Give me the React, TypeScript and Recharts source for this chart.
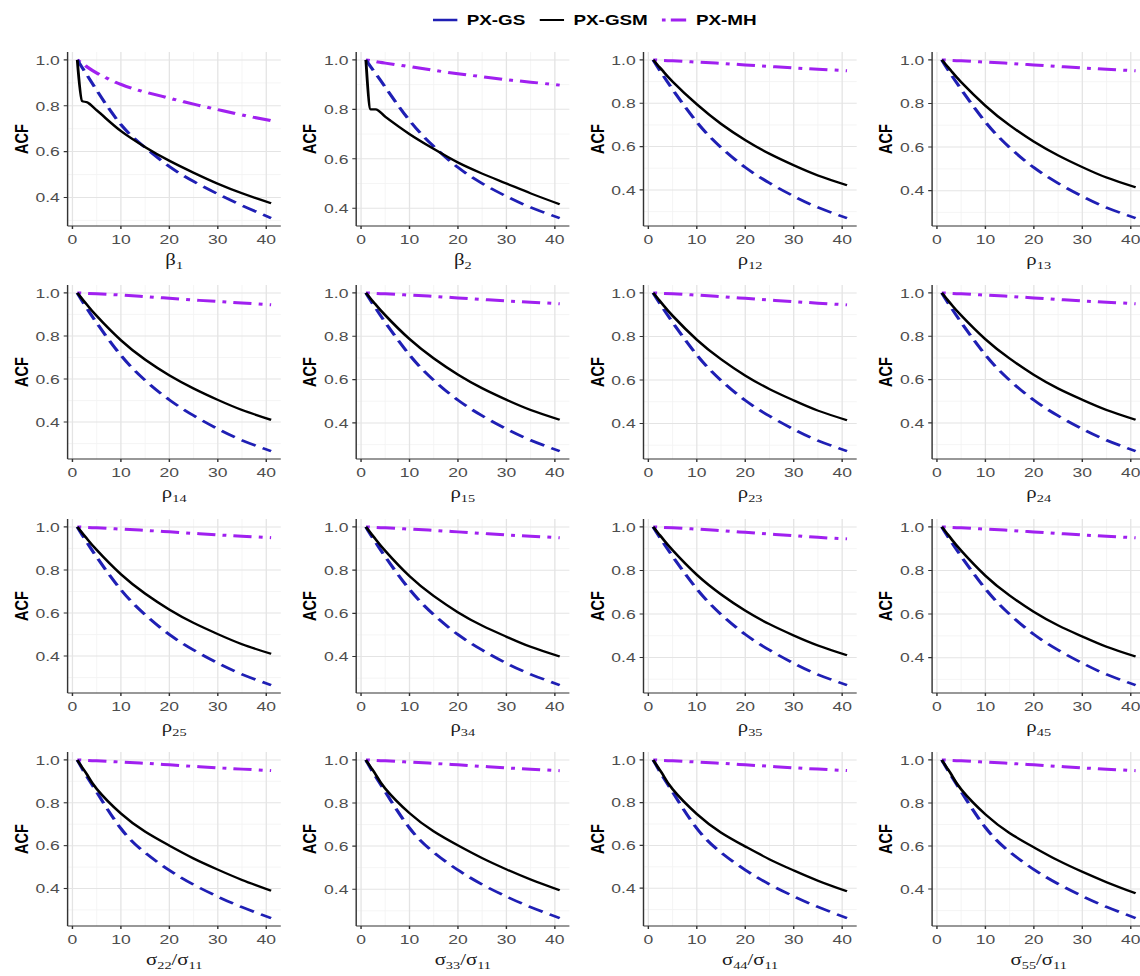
import React from "react"
import { LineChart, Line, XAxis, YAxis, CartesianGrid, Label } from "recharts"

const LAGS = [1, 2, 3, 5, 10, 15, 20, 25, 30, 35, 41]

const X_TICKS = [0, 10, 20, 30, 40]
const X_MINOR = [5, 15, 25, 35]
const Y_TICKS = [0.4, 0.6, 0.8, 1.0]
const Y_MINOR = [0.3, 0.5, 0.7, 0.9]

// panel titles: [symbol, subscript] pieces joined by "/"
const TITLES: [string, string][][] = [
  [["β", "1"]], [["β", "2"]], [["ρ", "12"]], [["ρ", "13"]],
  [["ρ", "14"]], [["ρ", "15"]], [["ρ", "23"]], [["ρ", "24"]],
  [["ρ", "25"]], [["ρ", "34"]], [["ρ", "35"]], [["ρ", "45"]],
  [["σ", "22"], ["σ", "11"]], [["σ", "33"], ["σ", "11"]],
  [["σ", "44"], ["σ", "11"]], [["σ", "55"], ["σ", "11"]],
]

const GS = [
  [1, 0.967, 0.934, 0.868, 0.718, 0.618, 0.535, 0.47, 0.415, 0.365, 0.31],
  [1, 0.972, 0.945, 0.89, 0.755, 0.65, 0.565, 0.5, 0.448, 0.403, 0.36],
  [1, 0.964, 0.93, 0.864, 0.713, 0.596, 0.504, 0.432, 0.371, 0.319, 0.27],
  [1, 0.964, 0.93, 0.865, 0.715, 0.598, 0.506, 0.434, 0.374, 0.322, 0.274],
  [1, 0.963, 0.928, 0.861, 0.71, 0.594, 0.503, 0.43, 0.368, 0.315, 0.265],
  [1, 0.964, 0.93, 0.864, 0.714, 0.597, 0.505, 0.433, 0.372, 0.32, 0.27],
  [1, 0.964, 0.93, 0.865, 0.715, 0.598, 0.506, 0.434, 0.373, 0.321, 0.273],
  [1, 0.964, 0.93, 0.864, 0.714, 0.597, 0.505, 0.433, 0.372, 0.32, 0.27],
  [1, 0.963, 0.928, 0.86, 0.708, 0.592, 0.5, 0.428, 0.367, 0.315, 0.265],
  [1, 0.963, 0.929, 0.862, 0.711, 0.594, 0.502, 0.43, 0.369, 0.318, 0.268],
  [1, 0.964, 0.93, 0.865, 0.715, 0.598, 0.506, 0.434, 0.373, 0.321, 0.273],
  [1, 0.964, 0.93, 0.865, 0.716, 0.599, 0.507, 0.435, 0.375, 0.323, 0.274],
  [1, 0.96, 0.922, 0.85, 0.68, 0.567, 0.485, 0.418, 0.362, 0.313, 0.262],
  [1, 0.96, 0.923, 0.852, 0.684, 0.571, 0.489, 0.422, 0.366, 0.317, 0.266],
  [1, 0.96, 0.922, 0.85, 0.68, 0.567, 0.485, 0.418, 0.362, 0.312, 0.26],
  [1, 0.961, 0.924, 0.853, 0.686, 0.573, 0.491, 0.424, 0.367, 0.317, 0.265],
]

const GSM = [
  [1, 0.82, 0.815, 0.78, 0.69, 0.62, 0.56, 0.508, 0.46, 0.418, 0.375],
  [1, 0.8, 0.8, 0.77, 0.7, 0.64, 0.585, 0.54, 0.5, 0.46, 0.416],
  [1, 0.974, 0.949, 0.9, 0.795, 0.705, 0.63, 0.567, 0.514, 0.467, 0.422],
  [1, 0.974, 0.948, 0.898, 0.79, 0.7, 0.625, 0.562, 0.508, 0.46, 0.415],
  [1, 0.972, 0.945, 0.893, 0.78, 0.69, 0.617, 0.556, 0.503, 0.456, 0.41],
  [1, 0.973, 0.947, 0.897, 0.787, 0.698, 0.623, 0.56, 0.507, 0.46, 0.415],
  [1, 0.973, 0.946, 0.895, 0.785, 0.695, 0.62, 0.558, 0.506, 0.459, 0.415],
  [1, 0.973, 0.946, 0.896, 0.786, 0.697, 0.622, 0.559, 0.507, 0.46, 0.415],
  [1, 0.972, 0.945, 0.893, 0.78, 0.69, 0.616, 0.554, 0.502, 0.455, 0.41],
  [1, 0.971, 0.943, 0.889, 0.772, 0.68, 0.605, 0.543, 0.492, 0.445, 0.4],
  [1, 0.972, 0.945, 0.893, 0.78, 0.69, 0.615, 0.553, 0.501, 0.455, 0.41],
  [1, 0.972, 0.944, 0.891, 0.776, 0.685, 0.61, 0.548, 0.497, 0.45, 0.405],
  [1, 0.965, 0.932, 0.865, 0.75, 0.665, 0.6, 0.54, 0.488, 0.44, 0.39],
  [1, 0.966, 0.933, 0.867, 0.753, 0.668, 0.603, 0.544, 0.492, 0.445, 0.395],
  [1, 0.965, 0.931, 0.863, 0.747, 0.66, 0.595, 0.535, 0.483, 0.435, 0.385],
  [1, 0.965, 0.931, 0.863, 0.747, 0.66, 0.594, 0.533, 0.48, 0.432, 0.38],
]

const MH = [
  [1, 0.984, 0.97, 0.943, 0.893, 0.86, 0.833, 0.807, 0.783, 0.76, 0.735],
  [1, 0.997, 0.993, 0.987, 0.973, 0.958, 0.944, 0.932, 0.92, 0.91, 0.898],
  [1, 0.999, 0.998, 0.996, 0.99, 0.984, 0.977, 0.97, 0.963, 0.957, 0.95],
  [1, 0.999, 0.998, 0.996, 0.99, 0.984, 0.977, 0.97, 0.963, 0.957, 0.95],
  [1, 0.999, 0.998, 0.996, 0.99, 0.983, 0.975, 0.967, 0.96, 0.953, 0.945],
  [1, 0.999, 0.998, 0.996, 0.99, 0.984, 0.977, 0.97, 0.963, 0.957, 0.95],
  [1, 0.999, 0.998, 0.996, 0.99, 0.983, 0.975, 0.967, 0.96, 0.953, 0.945],
  [1, 0.999, 0.998, 0.996, 0.99, 0.984, 0.977, 0.97, 0.963, 0.957, 0.95],
  [1, 0.999, 0.998, 0.996, 0.99, 0.984, 0.977, 0.97, 0.963, 0.957, 0.95],
  [1, 0.999, 0.998, 0.996, 0.99, 0.984, 0.977, 0.97, 0.963, 0.957, 0.95],
  [1, 0.999, 0.998, 0.996, 0.99, 0.983, 0.975, 0.967, 0.96, 0.952, 0.945],
  [1, 0.999, 0.998, 0.996, 0.99, 0.984, 0.977, 0.97, 0.963, 0.957, 0.95],
  [1, 0.999, 0.998, 0.996, 0.99, 0.984, 0.977, 0.97, 0.963, 0.957, 0.95],
  [1, 0.999, 0.998, 0.996, 0.99, 0.984, 0.977, 0.97, 0.963, 0.957, 0.95],
  [1, 0.999, 0.998, 0.996, 0.99, 0.984, 0.977, 0.97, 0.963, 0.957, 0.95],
  [1, 0.999, 0.998, 0.996, 0.99, 0.984, 0.977, 0.97, 0.963, 0.957, 0.95],
]

const BLUE = "#1f1fb4"
const PURPLE = "#a020f0"
const GS_DASH = "12 6"
const MH_DASH = "3 5.5 14 5.5"

// the source figure is stretched sideways, so draw narrow and widen it
const STRETCH = 1.3
const COL_W = 221.5
const ROW_H = 233.3
const SANS = "'Liberation Sans', Arial, sans-serif"
const SERIF = "'Liberation Serif', 'DejaVu Serif', serif"

function AcfLabel({ viewBox }: any) {
  const x = viewBox.x + 16.6
  const y = viewBox.y + viewBox.height / 2
  return (
    <text
      x={x}
      y={y}
      transform={`rotate(-90 ${x} ${y})`}
      textAnchor="middle"
      dominantBaseline="central"
      fontFamily={SANS}
      fontWeight="bold"
      fontSize={14.5}
      fill="#000"
    >
      ACF
    </text>
  )
}

function makeTitle(parts: [string, string][]) {
  return ({ viewBox }: any) => {
    const items: React.ReactNode[] = []
    parts.forEach(([sym, sub], i) => {
      if (i > 0) items.push(<tspan key={`s${i}`} dy={-4}>/</tspan>)
      items.push(<tspan key={`m${i}`}>{sym}</tspan>)
      items.push(
        <tspan key={`b${i}`} dy={4} fontSize={11}>
          {sub}
        </tspan>
      )
    })
    return (
      <text
        x={viewBox.x + viewBox.width / 2}
        y={viewBox.y + 39}
        textAnchor="middle"
        fontFamily={SERIF}
        fontSize={16}
        fill="#1a1a1a"
      >
        {items}
      </text>
    )
  }
}

function Panel({ idx }: { idx: number }) {
  const data = LAGS.map((lag, i) => ({ lag, gs: GS[idx][i], gsm: GSM[idx][i], mh: MH[idx][i] }))
  const all = [...GS[idx], ...GSM[idx], ...MH[idx]]
  const lo = Math.min(...all)
  const hi = Math.max(...all)
  const pad = (hi - lo) * 0.05
  const domain = [lo - pad, hi + pad]
  const inside = (v: number) => v >= domain[0] && v <= domain[1]
  const col = idx % 4
  const row = Math.floor(idx / 4)
  const tick = { fontSize: 13.5, fill: "#4d4d4d", fontFamily: SANS }
  // the beta chains have a sharp drop at lag 2, keep that corner
  const gsmType = idx < 2 ? "monotone" : "natural"

  return (
    <div style={{ position: "absolute", left: 0.3 + col * COL_W, top: 46 + row * ROW_H }}>
      <LineChart width={222} height={232} data={data} margin={{ top: 6, right: 6, bottom: 0, left: 0 }}>
        <CartesianGrid
          stroke="#f2f2f2"
          strokeWidth={0.7}
          horizontalValues={Y_MINOR.filter(inside)}
          verticalValues={X_MINOR}
        />
        <CartesianGrid
          stroke="#e4e4e4"
          strokeWidth={1}
          horizontalValues={Y_TICKS.filter(inside)}
          verticalValues={X_TICKS}
        />
        <XAxis
          dataKey="lag"
          type="number"
          domain={[-1, 43]}
          ticks={X_TICKS}
          height={52}
          tick={tick}
          tickSize={3}
          tickMargin={5}
          stroke="#333"
          strokeWidth={1.1}
        >
          <Label content={makeTitle(TITLES[idx])} />
        </XAxis>
        <YAxis
          type="number"
          domain={domain}
          ticks={Y_TICKS}
          width={52}
          tick={tick}
          tickSize={3}
          tickMargin={3}
          tickFormatter={(v: number) => v.toFixed(1)}
          stroke="#333"
          strokeWidth={1.1}
        >
          <Label content={AcfLabel} />
        </YAxis>
        <Line
          type="natural"
          dataKey="mh"
          stroke={PURPLE}
          strokeWidth={3}
          strokeDasharray={MH_DASH}
          dot={false}
          activeDot={false}
          isAnimationActive={false}
        />
        <Line
          type="natural"
          dataKey="gs"
          stroke={BLUE}
          strokeWidth={2.6}
          strokeDasharray={GS_DASH}
          dot={false}
          activeDot={false}
          isAnimationActive={false}
        />
        <Line
          type={gsmType}
          dataKey="gsm"
          stroke="#000"
          strokeWidth={2.2}
          dot={false}
          activeDot={false}
          isAnimationActive={false}
        />
      </LineChart>
    </div>
  )
}

function LegendItem({ label, color, dash, width, gap }: any) {
  return (
    <div style={{ display: "flex", alignItems: "center", marginRight: gap }}>
      <svg width={19} height={10} style={{ marginRight: 7 }}>
        <line x1={0} x2={19} y1={5} y2={5} stroke={color} strokeWidth={width} strokeDasharray={dash} />
      </svg>
      <span>{label}</span>
    </div>
  )
}

export default function App() {
  return (
    <div
      style={{
        position: "absolute",
        left: 0,
        top: 0,
        width: 1140,
        height: 976,
        overflow: "hidden",
        background: "#fff",
      }}
    >
      <div
        style={{
          position: "absolute",
          left: 0,
          top: 0,
          width: 1140 / STRETCH,
          height: 976,
          transform: `scaleX(${STRETCH})`,
          transformOrigin: "0 0",
        }}
      >
        <div
          style={{
            position: "absolute",
            left: 333,
            top: 11,
            display: "flex",
            alignItems: "center",
            fontFamily: SANS,
            fontWeight: "bold",
            fontSize: 14.5,
            lineHeight: "18px",
          }}
        >
          <LegendItem label="PX-GS" color={BLUE} width={2.6} gap={11} />
          <LegendItem label="PX-GSM" color="#000" width={2.2} gap={11} />
          <LegendItem label="PX-MH" color={PURPLE} width={3} dash="3 4 14 4" gap={0} />
        </div>
        {TITLES.map((_, i) => (
          <Panel key={i} idx={i} />
        ))}
      </div>
    </div>
  )
}
